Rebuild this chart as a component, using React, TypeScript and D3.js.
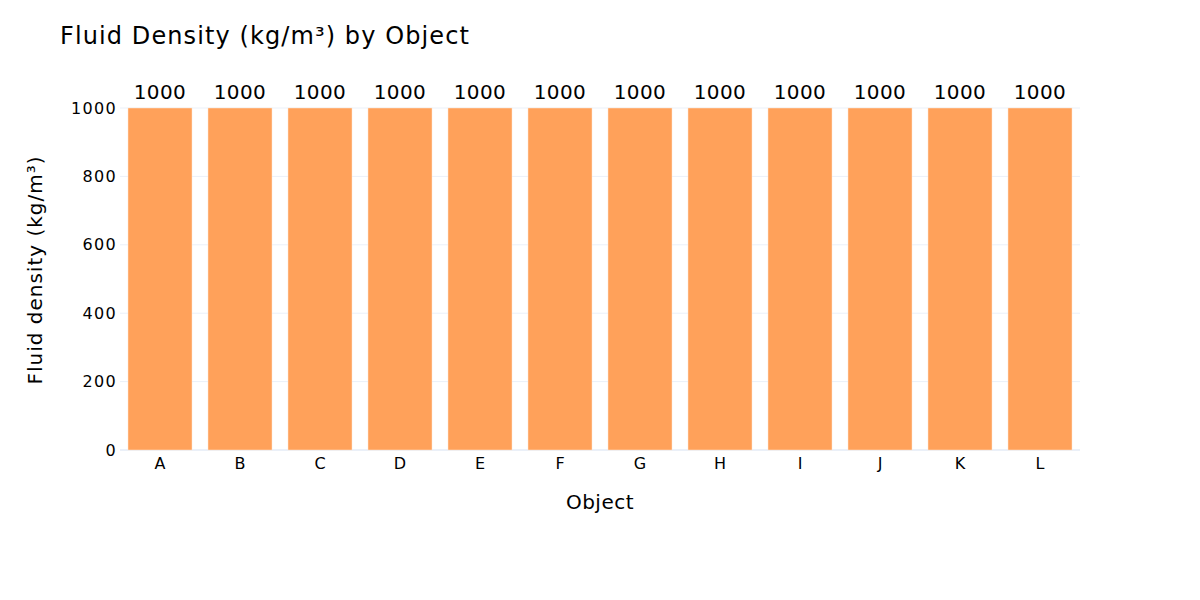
import React from "react";
import * as d3 from "d3";

const objects = ["A", "B", "C", "D", "E", "F", "G", "H", "I", "J", "K", "L"];
const densities = [1000, 1000, 1000, 1000, 1000, 1000, 1000, 1000, 1000, 1000, 1000, 1000];
const yTicks = [0, 200, 400, 600, 800, 1000];

const width = 1200;
const height = 600;
const margin = { top: 108, right: 120, bottom: 150, left: 120 };
const font = "Verdana, 'DejaVu Sans', sans-serif";

export default function App() {
  const innerW = width - margin.left - margin.right;
  const innerH = height - margin.top - margin.bottom;

  const x = d3.scaleBand<string>().domain(objects).range([0, innerW]).paddingInner(0.2).paddingOuter(0.1);
  const y = d3.scaleLinear().domain([0, 1000]).range([innerH, 0]);

  return (
    <svg width={width} height={height} style={{ display: "block", margin: "-8px", background: "#fff" }} fontFamily={font}>
      <text x={60} y={44} fontSize={24} letterSpacing={1.1} fill="#000">
        Fluid Density (kg/m³) by Object
      </text>
      <g transform={`translate(${margin.left},${margin.top})`}>
        {/* grid */}
        {yTicks.map((t) => (
          <line key={t} x1={0} x2={innerW} y1={y(t)} y2={y(t)} stroke="#EBF0F8" strokeWidth={t === 0 ? 2 : 1} />
        ))}
        {/* bars */}
        {objects.map((o, i) => (
          <rect
            key={o}
            x={x(o)}
            y={y(densities[i])}
            width={x.bandwidth()}
            height={innerH - y(densities[i])}
            fill="#FFA15A"
            stroke="#FFE5D2"
            strokeWidth={0.5}
          />
        ))}
        {/* bar labels */}
        {objects.map((o, i) => (
          <text key={o} x={(x(o) ?? 0) + x.bandwidth() / 2} y={y(densities[i]) - 9} textAnchor="middle" fontSize={20} letterSpacing={0.4} fill="#000">
            {densities[i]}
          </text>
        ))}
        {/* y ticks */}
        {yTicks.map((t) => (
          <text key={t} x={-3} y={y(t)} dy="0.35em" textAnchor="end" fontSize={16} letterSpacing={1.3} fill="#000">
            {t}
          </text>
        ))}
        {/* x ticks */}
        {objects.map((o) => (
          <text key={o} x={(x(o) ?? 0) + x.bandwidth() / 2} y={innerH + 19} textAnchor="middle" fontSize={16} fill="#000">
            {o}
          </text>
        ))}
        <text x={innerW / 2} y={innerH + 59} textAnchor="middle" fontSize={20} letterSpacing={0.5} fill="#000">
          Object
        </text>
        <text transform={`translate(${-78},${innerH / 2 - 9}) rotate(-90)`} textAnchor="middle" fontSize={20} letterSpacing={1} fill="#000">
          Fluid density (kg/m³)
        </text>
      </g>
    </svg>
  );
}
